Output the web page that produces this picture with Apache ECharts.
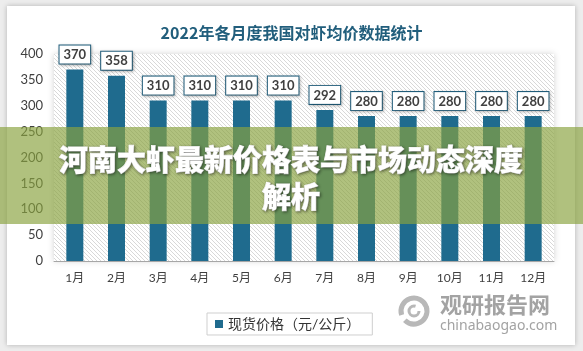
<!DOCTYPE html>
<html>
<head>
<meta charset="utf-8">
<script src="https://cdn.jsdelivr.net/npm/echarts@6/dist/echarts.min.js"></script>
<style>
  html, body { margin: 0; padding: 0; background: #ededed; }
  .card {
    position: absolute; left: 7px; top: 6px; width: 568px; height: 339px;
    background: #fff; box-shadow: 0 0 5px rgba(0,0,0,0.25);
  }
  #main { position: absolute; left: 0; top: 0; width: 583px; height: 351px; }
</style>
</head>
<body>
<div class="card"></div>
<div id="main"></div>
<script>
  // 数据
  const months = ['1月', '2月', '3月', '4月', '5月', '6月', '7月', '8月', '9月', '10月', '11月', '12月']
  const prices = [370, 358, 310, 310, 310, 310, 292, 280, 280, 280, 280, 280]
  const seriesName = '现货价格（元/公斤）'
  const chartTitle = '2022年各月度我国对虾均价数据统计'
  const bannerLines = ['河南大虾最新价格表与市场动态深度', '解析']

  const font = "Lato, 'Noto Sans CJK SC', sans-serif"

  // 斜线底纹
  function hatch() {
    const c = document.createElement('canvas')
    c.width = 4
    c.height = 4
    const ctx = c.getContext('2d')
    ctx.fillStyle = '#ffffff'
    ctx.fillRect(0, 0, 4, 4)
    ctx.strokeStyle = '#d8d8d8'
    ctx.lineWidth = 1
    ctx.beginPath()
    ctx.moveTo(0, 0); ctx.lineTo(4, 4)
    ctx.moveTo(-1, 3); ctx.lineTo(1, 5)
    ctx.moveTo(3, -1); ctx.lineTo(5, 1)
    ctx.stroke()
    return c
  }

  const chart = echarts.init(document.getElementById('main'))

  const option = {
    backgroundColor: 'transparent',
    animation: false,
    title: {
      text: chartTitle,
      left: 'center',
      top: 20,
      textStyle: {
        color: '#215e7c',
        fontSize: 16,
        fontWeight: 'bold',
        fontFamily: "'Noto Sans CJK SC', serif"
      }
    },
    grid: {
      show: true,
      left: 54,
      right: 29,
      top: 54,
      bottom: 90,
      borderWidth: 0,
      backgroundColor: { image: hatch(), repeat: 'repeat' },
      shadowBlur: 6,
      shadowColor: 'rgba(0,0,0,0.18)'
    },
    legend: {
      data: [seriesName],
      left: 207,
      top: 313,
      padding: [4, 12, 4, 8],
      itemWidth: 8,
      itemHeight: 8,
      icon: 'rect',
      borderColor: '#cfcfcf',
      borderWidth: 1,
      backgroundColor: '#fff',
      textStyle: { fontSize: 14, color: '#333', fontFamily: font }
    },
    xAxis: {
      type: 'category',
      data: months,
      axisTick: { show: false },
      axisLine: { lineStyle: { color: '#a6a6a6' } },
      axisLabel: { margin: 11, fontSize: 12, color: '#404040', fontFamily: font }
    },
    yAxis: {
      type: 'value',
      min: 0,
      max: 400,
      interval: 50,
      splitLine: { show: false },
      axisLabel: { margin: 11, fontSize: 13, color: '#404040', fontFamily: font }
    },
    series: [
      {
        name: seriesName,
        type: 'bar',
        data: prices,
        barWidth: 17,
        itemStyle: { color: '#1f6b8e' },
        label: {
          show: true,
          position: 'top',
          distance: 6,
          backgroundColor: '#fff',
          borderColor: '#215e7c',
          borderWidth: 1,
          padding: [3, 4, 2, 4],
          fontSize: 13,
          fontWeight: 'bold',
          color: '#404040',
          fontFamily: font,
          shadowBlur: 3,
          shadowOffsetX: 1,
          shadowOffsetY: 1,
          shadowColor: 'rgba(0,0,0,0.25)'
        }
      }
    ],
    graphic: [
      {
        type: 'rect',
        z: 100,
        shape: { x: 0, y: 127, width: 583, height: 97 },
        style: { fill: 'rgba(137,162,62,0.67)' }
      },
      {
        type: 'text',
        z: 101,
        x: 291,
        y: 141,
        style: {
          text: bannerLines.join('\n'),
          fill: '#fff',
          stroke: '#fff',
          lineWidth: 0.8,
          font: "900 29px 'Noto Sans CJK SC', sans-serif",
          lineHeight: 37,
          align: 'center',
          verticalAlign: 'top',
          textShadowColor: 'rgba(0,0,0,0.45)',
          textShadowBlur: 3,
          textShadowOffsetX: 1,
          textShadowOffsetY: 1
        }
      },
      {
        type: 'group',
        z: 50,
        children: [
          {
            type: 'arc',
            shape: { cx: 414, cy: 311, r: 13, startAngle: Math.PI * 0.9, endAngle: Math.PI * 1.95 },
            style: { stroke: '#b8b8b8', lineWidth: 5, fill: null }
          },
          {
            type: 'arc',
            shape: { cx: 414, cy: 311, r: 13, startAngle: Math.PI * -0.1, endAngle: Math.PI * 0.75 },
            style: { stroke: '#b8b8b8', lineWidth: 5, fill: null }
          },
          {
            type: 'arc',
            shape: { cx: 414, cy: 311, r: 5, startAngle: 0, endAngle: Math.PI * 1.6 },
            style: { stroke: '#b8b8b8', lineWidth: 3, fill: null }
          },
          {
            type: 'text',
            left: 440,
            top: 294,
            style: {
              text: '观研报告网',
              fill: '#a3a3a3',
              font: "bold 22px 'Noto Sans CJK SC', sans-serif"
            }
          },
          {
            type: 'text',
            left: 440,
            top: 319,
            style: {
              text: 'chinabaogao.com',
              fill: '#a3a3a3',
              font: "14px 'Noto Sans', sans-serif"
            }
          }
        ]
      }
    ]
  }

  chart.setOption(option)
</script>
</body>
</html>
